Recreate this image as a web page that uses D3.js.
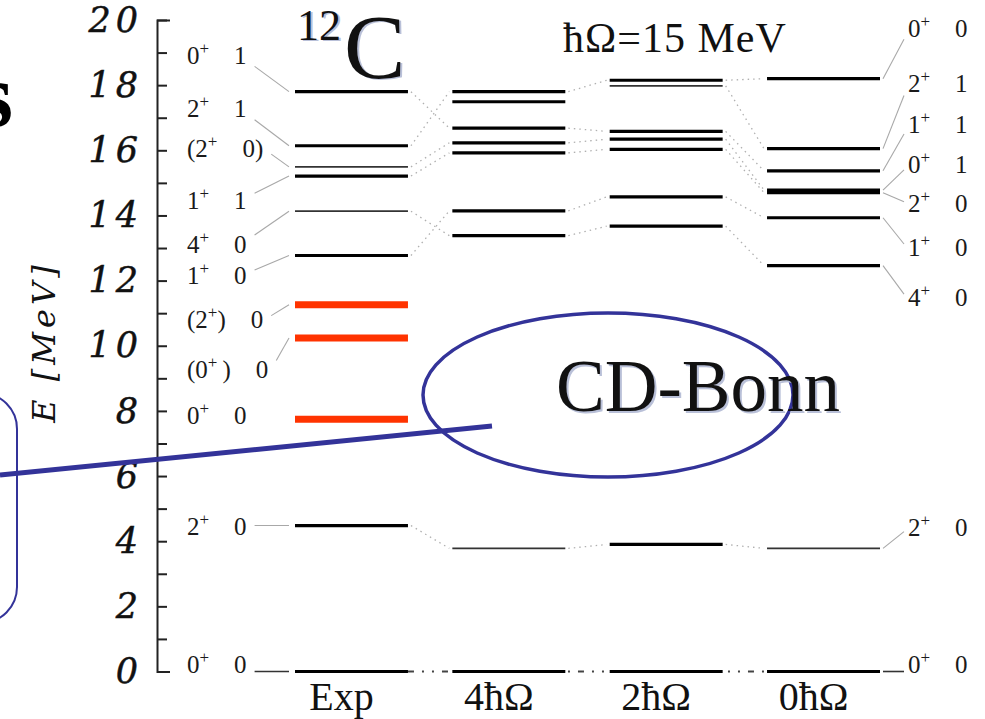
<!DOCTYPE html>
<html>
<head>
<meta charset="utf-8">
<script src="https://cdn.jsdelivr.net/npm/d3@7"></script>
<style>
  html, body { margin: 0; padding: 0; background: #fff; overflow: hidden; }
  svg { display: block; }
</style>
</head>
<body>
<svg id="chart" width="985" height="719"></svg>
<script>
// ---- 12C level scheme: experiment vs. NCSM (CD-Bonn) at 4, 2, 0 hbar-Omega ----
const columns = ["Exp", "4ħΩ", "2ħΩ", "0ħΩ"];
const yTicks = d3.range(0, 21);

// Experimental levels (MeV) and their J^pi T tags
const expE  = [17.80, 16.14, 15.49, 15.21, 14.13, 12.77, 11.26, 10.24, 7.74, 4.48, 0];
const expJT = ["0^+ 1", "2^+ 1", "(2^+ 0)", "1^+ 1", "4^+ 0", "1^+ 0", "(2^+) 0", "(0^+ ) 0", "0^+ 0", "2^+ 0", "0^+ 0"];
const expTagE = [18.91, 17.28, 16.05, 14.45, 13.09, 12.14, 10.78, 9.25, 7.83, 4.45, 0.2];
const expMarked = [0, 0, 0, 0, 0, 0, 1, 1, 1, 0, 0];

// Calculated spectra (MeV)
const calc4 = [17.80, 17.49, 16.68, 16.23, 15.92, 14.14, 13.38, 3.78, 0];
const calc2 = [18.15, 17.98, 16.58, 16.34, 16.03, 14.57, 13.67, 3.90, 0];
const calc0 = [18.20, 16.05, 15.37, 14.78, 14.70, 13.93, 12.46, 3.78, 0];
const calc0JT = ["0^+ 0", "2^+ 1", "1^+ 1", "0^+ 1", "2^+ 0", "1^+ 0", "4^+ 0", "2^+ 0", "0^+ 0"];
const calc0TagE = [19.71, 18.02, 16.78, 15.55, 14.35, 13.00, 11.46, 4.42, 0.2];

// Correspondence between neighbouring columns (index pairs)
const linksExp4 = [[0, 2], [1, 0], [2, 3], [3, 4], [4, 6], [5, 5], [9, 7]];
const links42   = [[0, 0], [2, 2], [3, 3], [4, 4], [5, 5], [6, 6], [7, 7]];
const links20   = [[0, 0], [1, 1], [2, 2], [3, 3], [4, 4], [5, 5], [6, 6], [7, 7]];

// ---------------------------------------------------------------------------
const svg = d3.select("#chart");
const serif = "'Liberation Serif', 'Times New Roman', serif";
const blue = "#333399";

const y = d3.scaleLinear().domain([0, 20]).range([671.5, 20]);
const x = d3.scaleBand().domain(columns).range([295, 880]).paddingInner(0.282).paddingOuter(0);
const xl = c => x(c);
const xr = c => x(c) + x.bandwidth();

// Energy axis
const axisX = 157;
const axis = d3.axisLeft(y)
  .tickValues(yTicks)
  .tickSizeInner(-10)
  .tickSizeOuter(-13)
  .tickPadding(14)
  .tickFormat(d => d % 2 ? "" : d);
const ag = svg.append("g").attr("transform", `translate(${axisX},0)`).call(axis);
ag.select(".domain").attr("stroke", "#222").attr("stroke-width", 2);
ag.selectAll(".tick line").attr("stroke", "#222").attr("stroke-width", 2);
ag.selectAll(".tick text")
  .attr("font-family", "'DejaVu Serif', serif")
  .attr("font-style", "italic")
  .attr("font-size", 35)
  .attr("letter-spacing", 5)
  .attr("stroke", "#111").attr("stroke-width", 0.5)
  .attr("fill", "#111");

svg.append("text")
  .attr("transform", "translate(55,342) rotate(-90)")
  .attr("text-anchor", "middle")
  .attr("font-family", "'DejaVu Serif', serif")
  .attr("font-style", "italic")
  .attr("font-size", 32)
  .attr("letter-spacing", 4)
  .attr("fill", "#111")
  .text("E [MeV]");

// Dotted correspondence lines between columns
function linkColumns(colA, eA, colB, eB, pairs) {
  svg.append("g").selectAll("line").data(pairs).join("line")
    .attr("x1", xr(colA) + 3).attr("y1", d => y(eA[d[0]]))
    .attr("x2", xl(colB) - 3).attr("y2", d => y(eB[d[1]]))
    .attr("stroke", "#b0b0b0").attr("stroke-width", 1.3)
    .attr("stroke-dasharray", "1.5,4");
}
linkColumns("Exp", expE, "4ħΩ", calc4, linksExp4);
linkColumns("4ħΩ", calc4, "2ħΩ", calc2, links42);
linkColumns("2ħΩ", calc2, "0ħΩ", calc0, links20);

// Ground-state dash-dot line running through all columns
svg.append("line")
  .attr("x1", xr("Exp")).attr("x2", xl("0ħΩ"))
  .attr("y1", y(0)).attr("y2", y(0))
  .attr("stroke", "#444").attr("stroke-width", 2)
  .attr("stroke-dasharray", "6,8,2,8,2,8");

// Level lines
const thinLevels = { "Exp": [15.49, 14.13], "4ħΩ": [3.78], "2ħΩ": [17.98], "0ħΩ": [3.78] };
function drawLevels(col, energies, marked) {
  const thin = thinLevels[col] || [];
  svg.append("g").selectAll("line").data(energies).join("line")
    .attr("x1", xl(col)).attr("x2", xr(col))
    .attr("y1", d => y(d)).attr("y2", d => y(d))
    .attr("stroke", (d, i) => marked && marked[i] ? "#ff3300" : (thin.includes(d) ? "#333" : "#000"))
    .attr("stroke-width", (d, i) => marked && marked[i] ? 7 : (thin.includes(d) ? 1.8 : 3.2));
}
drawLevels("Exp", expE, expMarked);
drawLevels("4ħΩ", calc4);
drawLevels("2ħΩ", calc2);
drawLevels("0ħΩ", calc0);

// J^pi T tags with leader lines
function tagText(g, label, x0, baseY) {
  const [pre, post] = label.split("^+");
  const t = g.append("text")
    .attr("x", x0).attr("y", baseY)
    .attr("font-family", serif).attr("font-size", 25).attr("fill", "#1a1a1a");
  t.append("tspan").text(pre);
  t.append("tspan").attr("dy", -10).attr("font-size", 17).text("+");
  t.append("tspan").attr("dy", 10)
    .text(post.replace(/ \)/g, "\u2009)").replace(/ /g, "\u2003"));
  return t;
}
function drawTags(side, col, energies, labels, tagE) {
  const g = svg.append("g");
  labels.forEach((lab, i) => {
    const c = y(tagE[i]);
    const ly = y(energies[i]);
    const ground = energies[i] === 0;
    const flat = Math.abs(ly - c) < 10;
    if (side === "left") {
      const t = tagText(g, lab, 187, c + 8);
      const end = 187 + t.node().getComputedTextLength();
      const sy = flat ? ly : c + Math.max(-13, Math.min(13, 0.3 * (ly - c)));
      if (!(expMarked[i] && flat)) {
        g.append("line")
          .attr("x1", end + 8).attr("y1", sy)
          .attr("x2", xl(col) - 6).attr("y2", ly)
          .attr("stroke", ground ? "#333" : "#a8a8a8")
          .attr("stroke-width", ground ? 1.6 : 1.1);
      }
    } else {
      tagText(g, lab, 908, c + 8);
      const ey = flat ? ly : c + Math.max(-4, Math.min(11, 0.2 * (ly - c)));
      g.append("line")
        .attr("x1", xr(col) + 3).attr("y1", ly)
        .attr("x2", 904).attr("y2", ey)
        .attr("stroke", ground ? "#333" : "#a8a8a8")
        .attr("stroke-width", ground ? 1.6 : 1.1);
    }
  });
}
drawTags("left", "Exp", expE, expJT, expTagE);
drawTags("right", "0ħΩ", calc0, calc0JT, calc0TagE);

// Column names along the bottom
svg.append("g").selectAll("text").data(columns).join("text")
  .attr("x", d => x(d) + x.bandwidth() / 2 - 10)
  .attr("y", 710)
  .attr("text-anchor", "middle")
  .attr("font-family", serif).attr("font-size", 40).attr("fill", "#111")
  .text(d => d);

// Nucleus and oscillator energy
const shadowed = (draw, dx, dy) => {
  [["#b9c0d8", dx, dy], ["#111", 0, 0]].forEach(([fill, ox, oy]) => draw(fill, ox, oy));
};
shadowed((fill, ox, oy) => {
  svg.append("text").attr("x", 297 + ox).attr("y", 40 + oy)
    .attr("font-family", serif).attr("font-size", 44).attr("fill", fill).text("12");
  svg.append("text").attr("x", 344 + ox).attr("y", 78 + oy)
    .attr("font-family", serif).attr("font-size", 92).attr("fill", fill).text("C");
}, 2, 1);
svg.append("text").attr("x", 563).attr("y", 52)
  .attr("font-family", serif).attr("font-size", 42).attr("letter-spacing", 1).attr("fill", "#111")
  .text("ħΩ=15 MeV");

// Annotation: interaction name, ellipse and pointer
svg.append("ellipse")
  .attr("cx", 608).attr("cy", 395).attr("rx", 185).attr("ry", 82)
  .attr("fill", "none").attr("stroke", blue).attr("stroke-width", 3.5);
shadowed((fill, ox, oy) => {
  svg.append("text").attr("x", 556 + ox).attr("y", 411 + oy)
    .attr("font-family", serif).attr("font-size", 73).attr("fill", fill).text("CD-Bonn");
}, 2, 2);
svg.append("line")
  .attr("x1", 0).attr("y1", 475).attr("x2", 492).attr("y2", 426)
  .attr("stroke", blue).attr("stroke-width", 5);
svg.append("rect")
  .attr("x", -60).attr("y", 393).attr("width", 77).attr("height", 230).attr("rx", 36)
  .attr("fill", "none").attr("stroke", blue).attr("stroke-width", 2);

// Fragment of a neighbouring heading
svg.append("text").attr("x", 13).attr("y", 126).attr("text-anchor", "end")
  .attr("font-family", serif).attr("font-weight", "bold").attr("font-size", 90)
  .attr("fill", "#000").text("s");
</script>
</body>
</html>
